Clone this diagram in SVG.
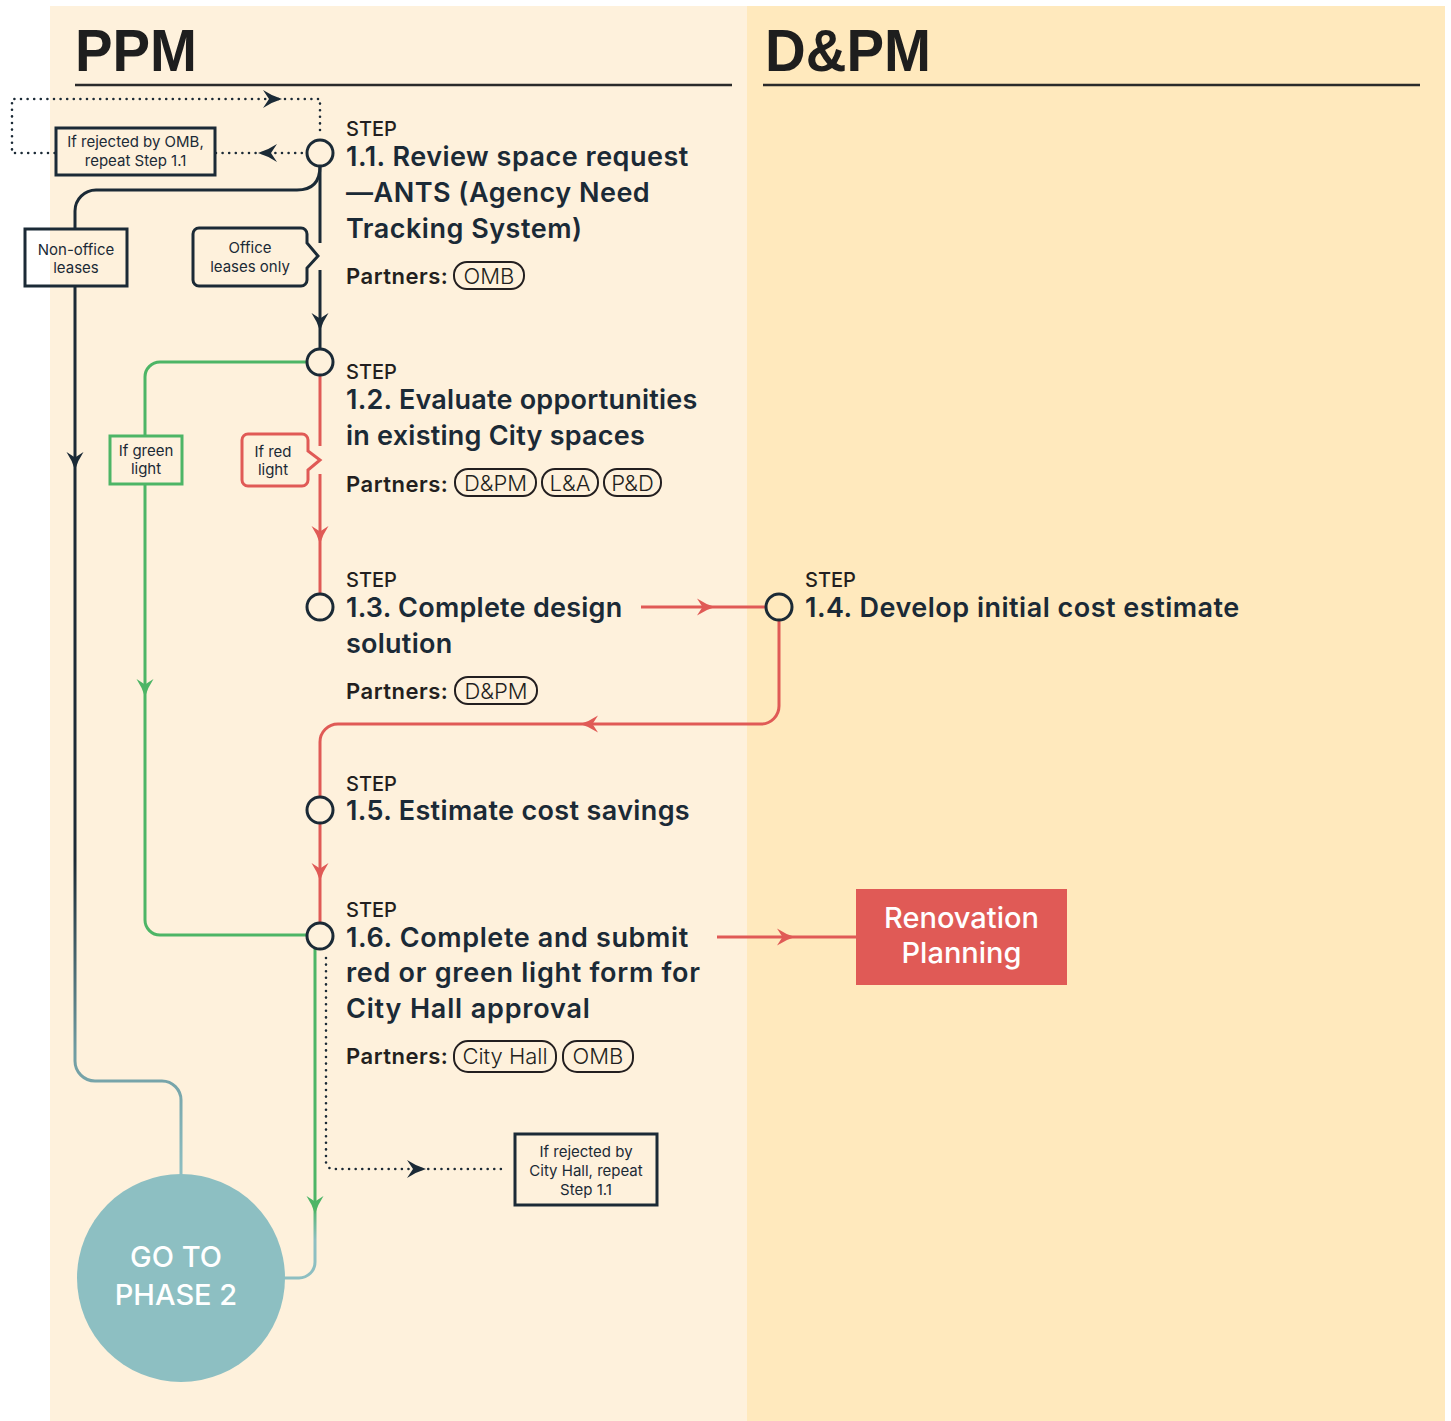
<svg xmlns="http://www.w3.org/2000/svg" xmlns:xlink="http://www.w3.org/1999/xlink" width="1451" height="1421" viewBox="0 0 1451 1421">
<style>
.t{font-family:Inter,"Noto Sans","Liberation Sans",sans-serif;}
.hdr{font-family:"Liberation Sans",Arial,sans-serif;font-weight:700;font-size:60px;fill:#1e1e1e;}
.step{font-size:20px;font-weight:500;fill:#231f20;}
.title{font-size:27px;font-weight:600;fill:#1b2a36;letter-spacing:0.5px;}
.part{font-size:22px;font-weight:600;fill:#231f20;letter-spacing:0.5px;}
.pilltxt{font-size:22px;font-weight:300;fill:#231f20;text-anchor:middle;}
.pill{fill:none;stroke:#231f20;stroke-width:2;}
.node{fill:none;stroke:#1b2a36;stroke-width:3;}
.lbl{font-size:15px;font-weight:400;fill:#1b2a36;text-anchor:middle;}
.dark{fill:none;stroke:#1b2a36;stroke-width:3;}
.red{fill:none;stroke:#e05a56;stroke-width:3;}
.green{fill:none;stroke:#4db566;stroke-width:3;}
.dot{fill:none;stroke:#1b2a36;stroke-width:2.6;stroke-dasharray:0 6.6;stroke-linecap:round;}
.ahd{fill:#1b2a36;}
.ahr{fill:#e05a56;}
.ahg{fill:#4db566;}
.box{fill:#fef1dc;stroke:#1b2a36;stroke-width:3;}
.white{fill:#ffffff;text-anchor:middle;}
</style>
<defs>
<path id="ah" d="M0,0 Q-9,-2.5 -18,-8.5 L-12.5,0 L-18,8.5 Q-9,2.5 0,0 Z"/>
<path id="ahb" d="M0,0 Q-10,-3 -19,-9 L-13,0 L-19,9 Q-10,3 0,0 Z"/>
<linearGradient id="gNon" gradientUnits="userSpaceOnUse" x1="0" y1="860" x2="0" y2="1175">
<stop offset="0" stop-color="#1b2a36"/><stop offset="0.6" stop-color="#6f9ba1"/><stop offset="1" stop-color="#8dbfc2"/>
</linearGradient>
<linearGradient id="gGreen" gradientUnits="userSpaceOnUse" x1="0" y1="1205" x2="0" y2="1240">
<stop offset="0" stop-color="#4db566"/><stop offset="1" stop-color="#8dbfc2"/>
</linearGradient>
</defs>

<!-- lanes -->
<rect x="0" y="0" width="1451" height="1421" fill="#ffffff"/>
<rect x="50" y="6" width="697" height="1415" fill="#fef1dc"/>
<rect x="747" y="6" width="698" height="1415" fill="#ffe9bd"/>
<g id="lane-ppm">
<text class="hdr" x="75" y="71" textLength="122" lengthAdjust="spacingAndGlyphs">PPM</text>
<line x1="75" y1="85" x2="732" y2="85" stroke="#2a2a2a" stroke-width="2.5"/>
</g>
<g id="lane-dpm">
<text class="hdr" x="765" y="71" textLength="166" lengthAdjust="spacingAndGlyphs">D&amp;PM</text>
<line x1="763" y1="85" x2="1420" y2="85" stroke="#2a2a2a" stroke-width="2.5"/>
</g>

<g id="connectors">
<!-- OMB rejection loop -->
<path class="dot" d="M320,130 V99 H12 V153 H55"/>
<path class="dot" d="M216,153 H305"/>
<use href="#ahb" class="ahd" transform="translate(282,99)"/>
<use href="#ahb" class="ahd" transform="translate(258,153) rotate(180)"/>
<!-- 1.1 -> 1.2 office -->
<path class="dark" d="M320,166 V243"/>
<path class="dark" d="M320,270 V349"/>
<use href="#ah" class="ahd" transform="translate(320,331) rotate(90)"/>
<!-- non-office -->
<path class="dark" d="M320,166 C320,182 312,190 297,190 H96 A21,21 0 0 0 75,211 V229"/>
<path fill="none" stroke="url(#gNon)" stroke-width="3" d="M75,286 V1061 A20,20 0 0 0 95,1081 H162 A19,19 0 0 1 181,1100 V1176"/>
<use href="#ah" class="ahd" transform="translate(75,470) rotate(90)"/>
<!-- green from 1.2 -->
<path class="green" d="M307,362 H160 A15,15 0 0 0 145,377 V436"/>
<path class="green" d="M145,484 V920 A15,15 0 0 0 160,935 H307"/>
<use href="#ah" class="ahg" transform="translate(145,697) rotate(90)"/>
<!-- red 1.2 -> 1.3 -->
<path class="red" d="M320,375 V446"/>
<path class="red" d="M320,474 V594"/>
<use href="#ah" class="ahr" transform="translate(320,544) rotate(90)"/>
<!-- 1.3 -> 1.4 -->
<path class="red" d="M641,607 H766"/>
<use href="#ah" class="ahr" transform="translate(715,607)"/>
<!-- 1.4 -> 1.5 -->
<path class="red" d="M779,620 V706 A18,18 0 0 1 761,724 H338 A18,18 0 0 0 320,742 V797"/>
<use href="#ah" class="ahr" transform="translate(580,724) rotate(180)"/>
<!-- 1.5 -> 1.6 -->
<path class="red" d="M320,823 V923"/>
<use href="#ah" class="ahr" transform="translate(320,881) rotate(90)"/>
<!-- 1.6 -> renovation -->
<path class="red" d="M717,937 H856"/>
<use href="#ah" class="ahr" transform="translate(795,937)"/>
<!-- 1.6 -> phase 2 -->
<path fill="none" stroke="url(#gGreen)" stroke-width="3" d="M315,948 V1262 A16,16 0 0 1 299,1278 H284"/>
<use href="#ah" class="ahg" transform="translate(315,1214) rotate(90)"/>
<!-- 1.6 city hall rejection -->
<path class="dot" d="M326,958 V1162 A7,7 0 0 0 333,1169 H506"/>
<use href="#ahb" class="ahd" transform="translate(426,1169)"/>
</g>

<g id="label-omb-reject">
<rect class="box" x="56" y="128" width="159" height="47"/>
<text class="t lbl" x="135.5" y="147">If rejected by OMB,</text>
<text class="t lbl" x="135.5" y="166">repeat Step 1.1</text>
</g>
<g id="label-nonoffice">
<rect x="25" y="229" width="102" height="57" fill="none" stroke="#1b2a36" stroke-width="3"/>
<text class="t lbl" x="76" y="255">Non-office</text>
<text class="t lbl" x="76" y="273">leases</text>
</g>
<g id="label-office">
<path class="box" d="M199,228 H301 A6,6 0 0 1 307,234 V243 L318,256 L307,268 V280 A6,6 0 0 1 301,286 H199 A6,6 0 0 1 193,280 V234 A6,6 0 0 1 199,228 Z"/>
<text class="t lbl" x="250" y="253">Office</text>
<text class="t lbl" x="250" y="272">leases only</text>
</g>
<g id="label-green">
<rect x="110" y="436" width="72" height="48" fill="#fef1dc" stroke="#4db566" stroke-width="3"/>
<text class="t lbl" x="146" y="456">If green</text>
<text class="t lbl" x="146" y="474">light</text>
</g>
<g id="label-red">
<path d="M248,434 H302 A6,6 0 0 1 308,440 V451 L320,460 L308,470 V480 A6,6 0 0 1 302,486 H248 A6,6 0 0 1 242,480 V440 A6,6 0 0 1 248,434 Z" fill="#fef1dc" stroke="#e05a56" stroke-width="3"/>
<text class="t lbl" x="273" y="457">If red</text>
<text class="t lbl" x="273" y="475">light</text>
</g>
<g id="label-cityhall-reject">
<rect class="box" x="515" y="1134" width="142" height="71"/>
<text class="t lbl" x="586" y="1157">If rejected by</text>
<text class="t lbl" x="586" y="1176">City Hall, repeat</text>
<text class="t lbl" x="586" y="1195">Step 1.1</text>
</g>

<g id="step-1-1">
<circle class="node" cx="320" cy="153" r="13"/>
<text class="t step" x="346" y="136">STEP</text>
<text class="t title" x="346" y="166">1.1. Review space request</text>
<text class="t title" x="346" y="202">—ANTS (Agency Need</text>
<text class="t title" x="346" y="238">Tracking System)</text>
<text class="t part" x="346" y="284">Partners:</text>
<rect class="pill" x="454" y="262" width="70" height="27" rx="13"/>
<text class="t pilltxt" x="489" y="284">OMB</text>
</g>
<g id="step-1-2">
<circle class="node" cx="320" cy="362" r="13"/>
<text class="t step" x="346" y="379">STEP</text>
<text class="t title" x="346" y="409" style="letter-spacing:0.24px">1.2. Evaluate opportunities</text>
<text class="t title" x="346" y="445" style="letter-spacing:0.24px">in existing City spaces</text>
<text class="t part" x="346" y="492">Partners:</text>
<rect class="pill" x="455" y="469" width="81" height="27" rx="13"/>
<text class="t pilltxt" x="495.5" y="491">D&amp;PM</text>
<rect class="pill" x="542" y="469" width="56" height="27" rx="13"/>
<text class="t pilltxt" x="570" y="491">L&amp;A</text>
<rect class="pill" x="604" y="469" width="57" height="27" rx="13"/>
<text class="t pilltxt" x="632.5" y="491">P&amp;D</text>
</g>
<g id="step-1-3">
<circle class="node" cx="320" cy="607" r="13"/>
<text class="t step" x="346" y="587">STEP</text>
<text class="t title" x="346" y="617" style="letter-spacing:0.25px">1.3. Complete design</text>
<text class="t title" x="346" y="653" style="letter-spacing:0.25px">solution</text>
<text class="t part" x="346" y="699">Partners:</text>
<rect class="pill" x="455" y="677" width="82" height="27" rx="13"/>
<text class="t pilltxt" x="496" y="699">D&amp;PM</text>
</g>
<g id="step-1-4">
<circle class="node" cx="779" cy="607" r="13"/>
<text class="t step" x="805" y="587">STEP</text>
<text class="t title" x="805" y="617">1.4. Develop initial cost estimate</text>
</g>
<g id="step-1-5">
<circle class="node" cx="320" cy="810" r="13"/>
<text class="t step" x="346" y="791">STEP</text>
<text class="t title" x="346" y="820" style="letter-spacing:0.35px">1.5. Estimate cost savings</text>
</g>
<g id="step-1-6">
<circle class="node" cx="320" cy="936" r="13"/>
<text class="t step" x="346" y="917">STEP</text>
<text class="t title" x="346" y="947" style="letter-spacing:0.62px">1.6. Complete and submit</text>
<text class="t title" x="346" y="982" style="letter-spacing:0.72px">red or green light form for</text>
<text class="t title" x="346" y="1018" style="letter-spacing:0.83px">City Hall approval</text>
<text class="t part" x="346" y="1064">Partners:</text>
<rect class="pill" x="454" y="1041" width="102" height="31" rx="14"/>
<text class="t pilltxt" x="505" y="1064">City Hall</text>
<rect class="pill" x="563" y="1041" width="70" height="31" rx="14"/>
<text class="t pilltxt" x="598" y="1064">OMB</text>
</g>
<g id="renovation-planning">
<rect x="856" y="889" width="211" height="96" fill="#e05a56"/>
<text class="t white" x="961.5" y="928" font-size="29" font-weight="500">Renovation</text>
<text class="t white" x="961.5" y="963" font-size="29" font-weight="500">Planning</text>
</g>
<g id="go-to-phase-2">
<circle cx="181" cy="1278" r="104" fill="#8dbfc2"/>
<text class="t white" x="176" y="1267" font-size="29" font-weight="500">GO TO</text>
<text class="t white" x="176" y="1305" font-size="29" font-weight="500">PHASE 2</text>
</g>
</svg>
